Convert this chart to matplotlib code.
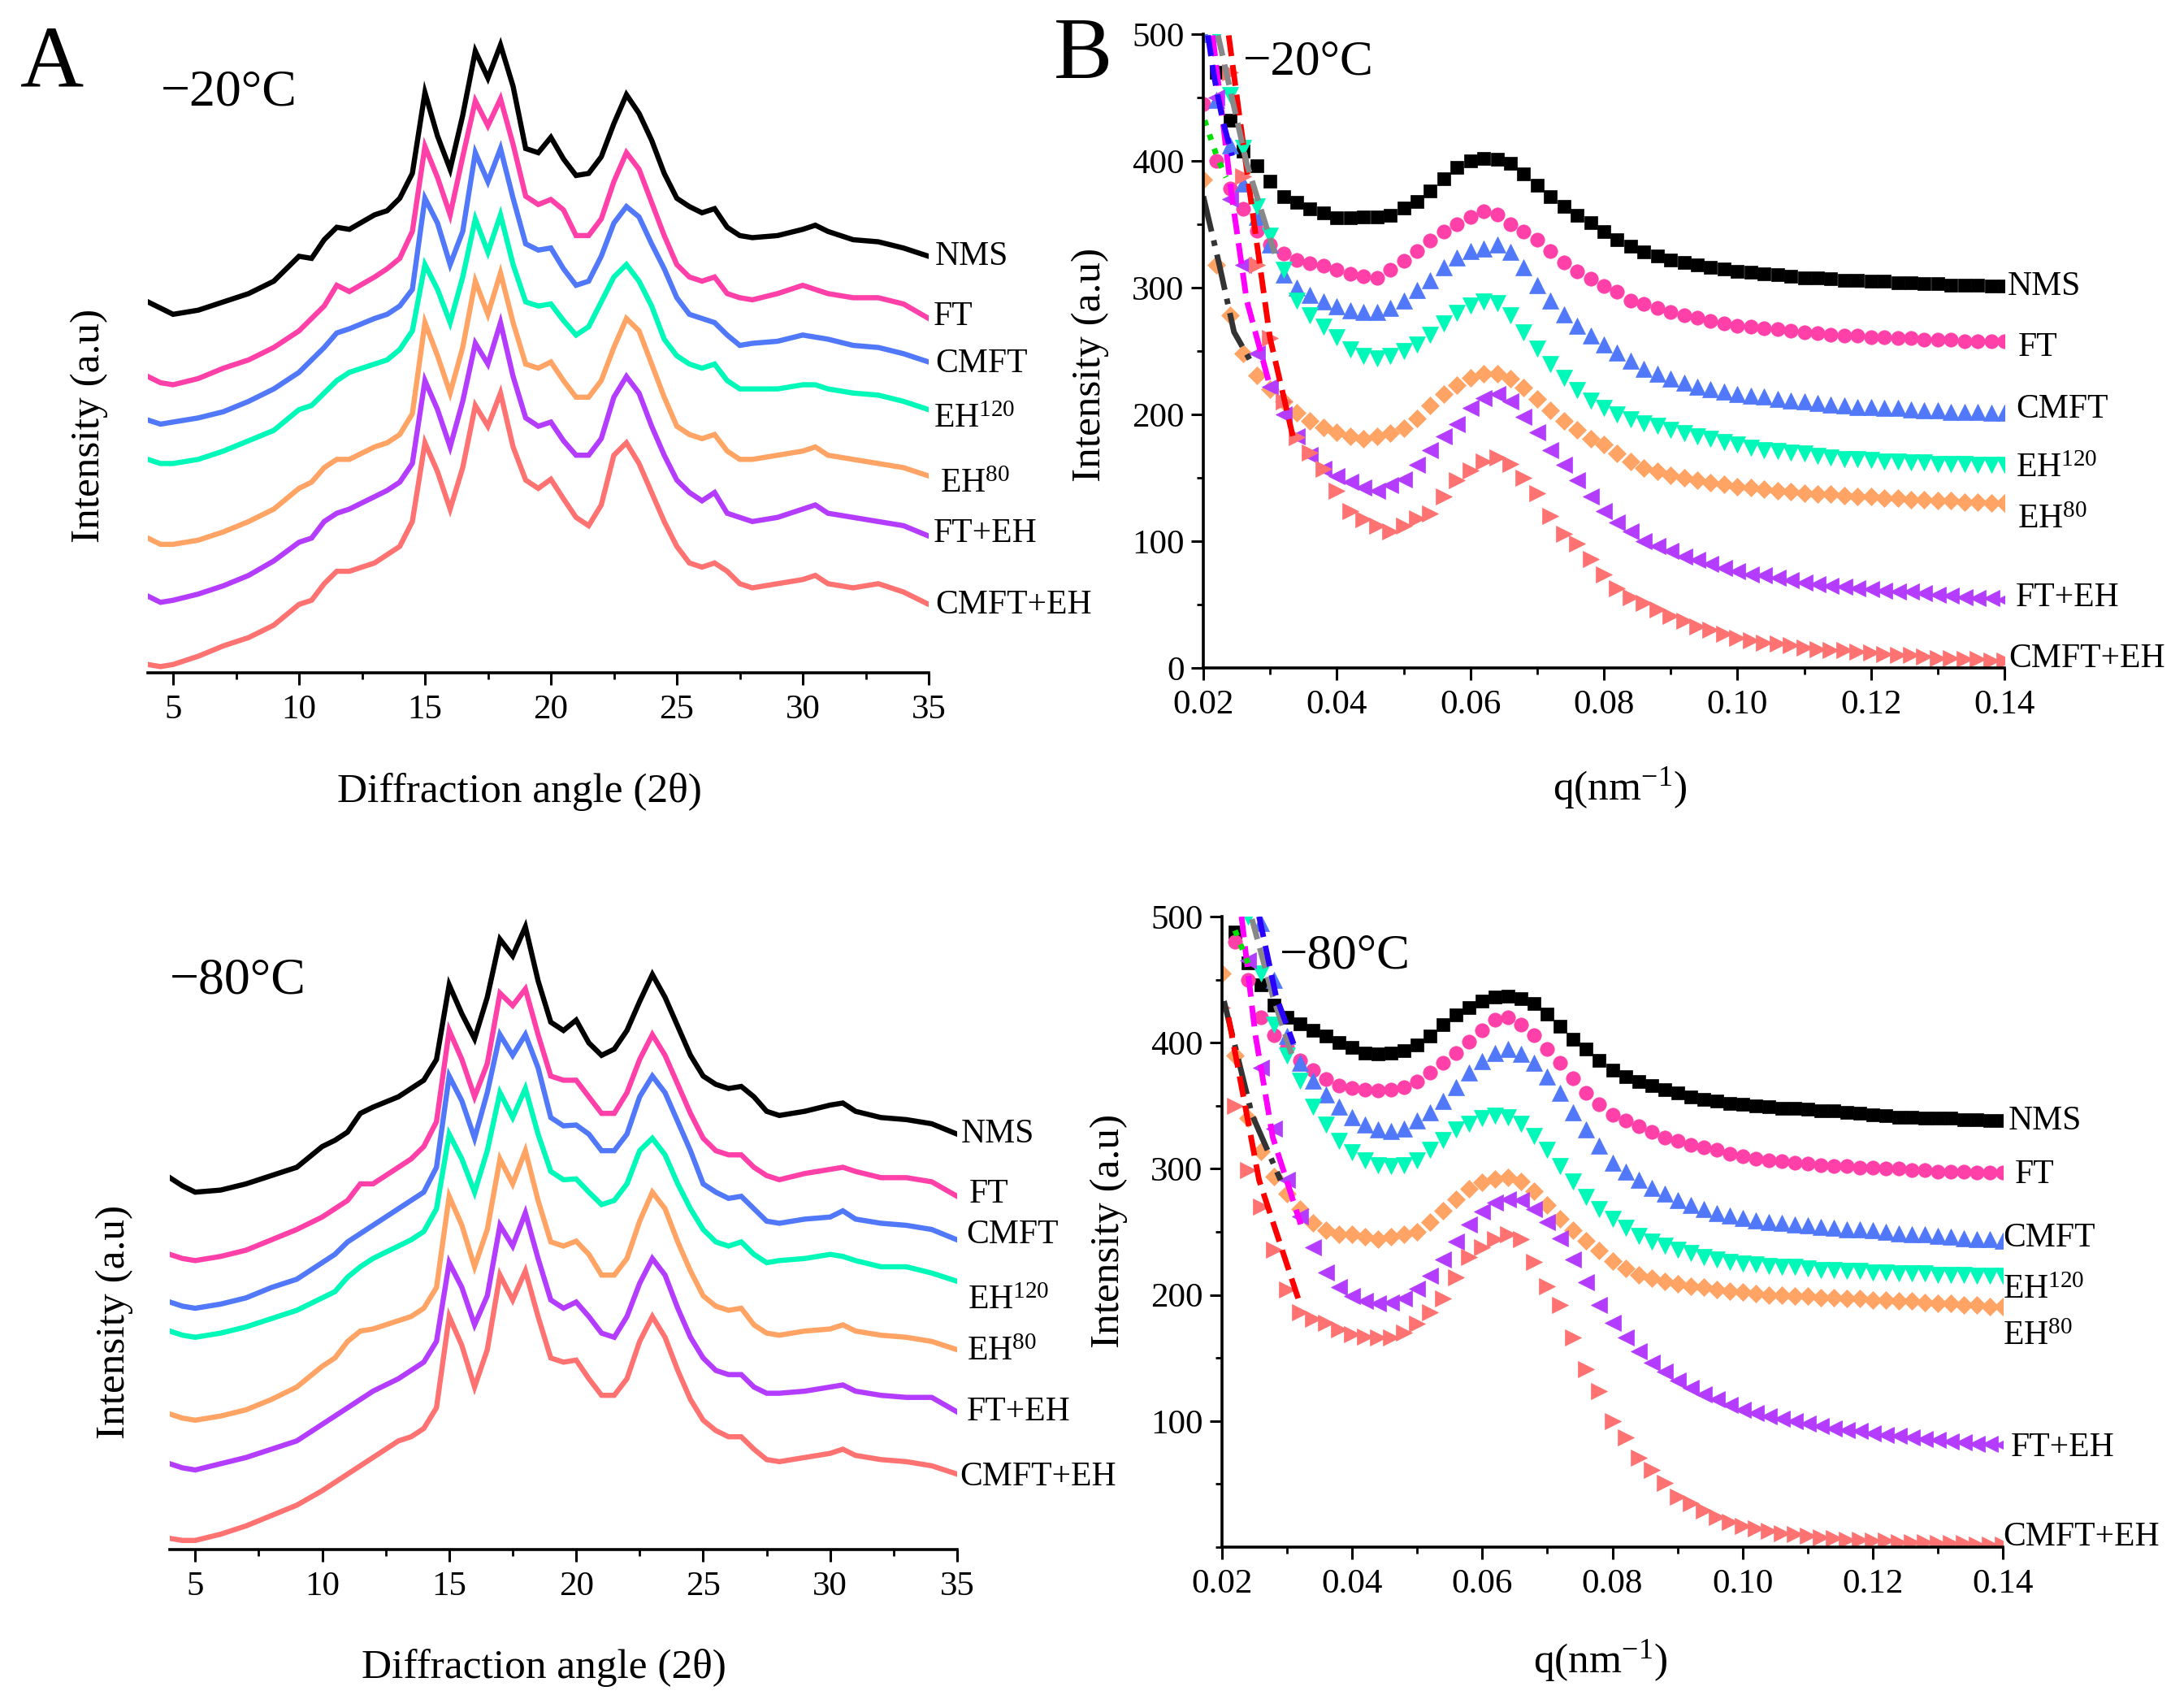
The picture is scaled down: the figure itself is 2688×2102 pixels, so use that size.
import numpy as np
import matplotlib
matplotlib.use("Agg")
import matplotlib.pyplot as plt
from matplotlib.ticker import MultipleLocator

plt.rcParams['font.family'] = ['Liberation Serif', 'DejaVu Serif']
plt.rcParams['mathtext.fontset'] = 'custom'
plt.rcParams['mathtext.rm'] = 'Liberation Serif'
plt.rcParams['mathtext.it'] = 'Liberation Serif:italic'

# ---------------- data ----------------
samples = ["NMS", "FT", "CMFT", "EH120", "EH80", "FT+EH", "CMFT+EH"]
sample_labels = ["NMS", "FT", "CMFT", "EH$^{\\mathrm{120}}$", "EH$^{\\mathrm{80}}$", "FT+EH", "CMFT+EH"]
colors = ["#000000", "#FF40A8", "#5078F8", "#00F8B8", "#FFA464", "#B43CFF", "#FF7272"]
markers = ["s", "o", "^", "v", "D", "<", ">"]

# XRD, diffraction angle (2 theta), stacked intensities (a.u.)
theta = [4, 4.5, 5, 6, 7, 8, 9, 10, 10.5, 11, 11.5, 12, 13, 13.5, 14, 14.5, 15, 15.5, 16, 16.5,
         17, 17.5, 18, 18.5, 19, 19.5, 20, 20.5, 21, 21.5, 22, 22.5, 23, 23.5, 24, 24.5, 25,
         25.5, 26, 26.5, 27, 27.5, 28, 29, 30, 30.5, 31, 32, 33, 34, 35]

xrd20_nms = [895, 880, 865, 875, 895, 915, 945, 1005, 1000, 1045, 1075, 1070, 1105, 1115, 1145, 1205,
             1400, 1295, 1215, 1345, 1500, 1435, 1515, 1415, 1265, 1255, 1292, 1240, 1200, 1205, 1245,
             1325, 1395, 1350, 1285, 1205, 1145, 1125, 1110, 1120, 1075, 1055, 1050, 1055, 1070, 1080,
             1065, 1045, 1040, 1025, 1005]
xrd20_ft = [715, 700, 695, 710, 735, 755, 785, 825, 855, 885, 935, 920, 955, 975, 1000, 1065,
            1270, 1195, 1105, 1245, 1380, 1320, 1385, 1275, 1150, 1130, 1142, 1117, 1055, 1055, 1095,
            1185, 1255, 1215, 1135, 1055, 985, 955, 945, 955, 915, 905, 900, 915, 935, 925,
            915, 905, 905, 890, 855]
xrd20_cmft = [610, 600, 605, 615, 630, 655, 685, 725, 755, 785, 820, 830, 855, 865, 885, 925,
              1145, 1085, 985, 1065, 1255, 1185, 1265, 1145, 1035, 1020, 1025, 975, 935, 945, 1005,
              1085, 1125, 1100, 1035, 975, 905, 865, 855, 845, 815, 790, 795, 800, 815, 810,
              805, 790, 785, 770, 750]
xrd20_eh120 = [515, 505, 505, 515, 535, 560, 585, 635, 645, 675, 705, 725, 745, 755, 780, 825,
               985, 925, 845, 955, 1095, 1015, 1105, 985, 895, 885, 890, 850, 815, 835, 895,
               955, 985, 945, 885, 805, 765, 745, 735, 745, 705, 685, 685, 685, 695, 695,
               685, 675, 670, 655, 635]
xrd20_eh80 = [325, 310, 310, 320, 340, 365, 395, 445, 460, 495, 515, 515, 545, 555, 575, 625,
              845, 765, 675, 785, 945, 865, 965, 845, 745, 735, 750, 705, 665, 665, 705,
              785, 855, 825, 745, 665, 595, 575, 565, 575, 535, 515, 515, 525, 535, 545,
              525, 515, 505, 495, 475]
xrd20_fteh = [185, 170, 175, 190, 210, 235, 270, 315, 325, 365, 385, 395, 425, 440, 460, 505,
              705, 635, 545, 655, 795, 745, 845, 715, 615, 595, 605, 560, 525, 525, 565,
              665, 715, 675, 595, 525, 465, 435, 415, 435, 385, 375, 365, 375, 395, 405,
              385, 375, 365, 355, 330]
xrd20_cmfteh = [20, 15, 20, 40, 65, 85, 115, 165, 175, 215, 245, 245, 265, 285, 305, 365,
                555, 485, 395, 495, 645, 595, 675, 545, 465, 445, 467, 420, 375, 355, 405,
                525, 555, 505, 435, 365, 305, 265, 255, 265, 245, 215, 205, 215, 225, 235,
                215, 205, 215, 195, 165]

xrd80_nms = [897, 877, 862, 867, 882, 902, 922, 972, 987, 1007, 1052, 1067, 1092, 1112, 1132, 1182,
             1362, 1292, 1232, 1332, 1472, 1432, 1502, 1372, 1272, 1252, 1277, 1222, 1192, 1207, 1252,
             1322, 1387, 1332, 1262, 1192, 1142, 1122, 1112, 1117, 1092, 1057, 1047, 1057, 1072, 1077,
             1057, 1042, 1037, 1027, 1002]
xrd80_ft = [712, 702, 697, 707, 722, 747, 772, 802, 822, 842, 882, 882, 922, 942, 972, 1032,
            1252, 1182, 1092, 1172, 1342, 1312, 1352, 1242, 1142, 1132, 1132, 1092, 1052, 1052, 1102,
            1182, 1242, 1192, 1122, 1052, 992, 962, 952, 952, 922, 902, 892, 907, 917, 922,
            912, 897, 897, 887, 852]
xrd80_cmft = [597, 587, 582, 592, 607, 632, 652, 692, 712, 742, 762, 782, 822, 842, 862, 922,
              1142, 1082, 992, 1102, 1242, 1192, 1242, 1162, 1042, 1022, 1024, 1002, 962, 962, 1002,
              1092, 1142, 1102, 1032, 962, 882, 862, 847, 852, 822, 792, 787, 797, 802, 817,
              797, 787, 782, 772, 747]
xrd80_eh120 = [527, 517, 512, 522, 537, 557, 577, 607, 622, 657, 682, 702, 732, 747, 767, 822,
               1002, 942, 862, 962, 1102, 1042, 1112, 1002, 912, 892, 894, 862, 832, 842, 882,
               962, 992, 952, 882, 822, 772, 742, 732, 742, 712, 692, 697, 702, 712, 707,
               697, 682, 682, 667, 647]
xrd80_eh80 = [327, 317, 312, 322, 337, 362, 392, 442, 462, 502, 527, 532, 552, 562, 582, 632,
              852, 782, 682, 772, 942, 882, 962, 842, 742, 732, 744, 712, 662, 662, 702,
              792, 862, 822, 742, 672, 612, 587, 577, 582, 542, 522, 517, 527, 532, 542,
              527, 517, 512, 502, 482]
xrd80_fteh = [207, 197, 192, 207, 222, 242, 262, 302, 322, 342, 362, 382, 412, 432, 452, 502,
              692, 632, 542, 612, 782, 732, 812, 702, 602, 582, 597, 562, 522, 512, 562,
              642, 702, 662, 582, 512, 462, 432, 422, 422, 392, 377, 377, 382, 392, 397,
              382, 372, 367, 367, 332]
xrd80_cmfteh = [27, 22, 22, 37, 57, 82, 107, 142, 162, 182, 202, 222, 262, 272, 292, 342,
                562, 492, 392, 482, 662, 602, 672, 562, 462, 452, 457, 412, 372, 372, 412,
                502, 562, 512, 432, 362, 312, 287, 272, 272, 242, 217, 212, 222, 232, 242,
                227, 217, 212, 202, 182]

# SAXS, q (nm^-1) sampled every 0.002 from 0.020 to 0.140
q = np.linspace(0.020, 0.140, 61)

saxs20_nms = [520, 470, 432, 408, 396, 384, 372, 367, 362, 359, 355, 355, 356, 356, 357, 363, 368, 376,
              386, 395, 400, 402, 401, 398, 390, 381, 372, 364, 357, 351, 344, 338, 333, 328, 325, 322,
              320, 318, 316, 315, 313, 312, 311, 310, 309, 308, 308, 307, 306, 306, 305, 305, 304, 304,
              303, 303, 302, 302, 302, 301, 301]
saxs20_ft = [445, 400, 378, 362, 345, 334, 327, 322, 319, 317, 314, 311, 309, 308, 314, 321, 329, 337,
             344, 350, 356, 360, 358, 350, 344, 338, 329, 320, 313, 307, 301, 297, 290, 287, 284, 281,
             278, 276, 274, 272, 270, 269, 268, 267, 266, 265, 264, 263, 262, 262, 261, 261, 260, 260,
             259, 259, 259, 258, 258, 258, 258]
saxs20_cmft = [500, 448, 412, 382, 356, 334, 310, 300, 294, 289, 285, 282, 281, 281, 284, 290, 298, 306,
               316, 324, 329, 331, 334, 328, 316, 302, 290, 279, 270, 262, 255, 249, 242, 236, 232, 228,
               225, 222, 220, 218, 216, 215, 214, 212, 211, 210, 209, 208, 207, 206, 206, 205, 205, 204,
               203, 203, 202, 202, 202, 201, 201]
saxs20_eh120 = [540, 500, 452, 410, 364, 341, 314, 290, 278, 269, 261, 251, 246, 244, 246, 250, 255, 263,
                272, 280, 286, 289, 288, 278, 265, 252, 240, 229, 219, 211, 205, 200, 196, 193, 191, 188,
                185, 183, 181, 178, 176, 174, 172, 171, 170, 169, 167, 166, 165, 165, 164, 163, 163, 162,
                162, 161, 161, 161, 160, 160, 160]
saxs20_eh80 = [385, 318, 278, 248, 231, 220, 210, 201, 195, 190, 186, 183, 181, 183, 185, 189, 197, 207,
               216, 223, 229, 232, 232, 228, 221, 212, 203, 195, 188, 181, 176, 169, 163, 158, 155, 152,
               150, 148, 146, 145, 143, 142, 141, 140, 139, 138, 137, 137, 136, 135, 135, 134, 134, 133,
               133, 132, 132, 131, 131, 130, 130]
saxs20_fteh = [520, 450, 370, 318, 248, 222, 200, 183, 168, 157, 151, 147, 142, 140, 144, 149, 160, 172,
               183, 192, 205, 213, 216, 210, 198, 186, 172, 160, 148, 135, 124, 115, 108, 100, 96, 92,
               88, 85, 82, 79, 76, 74, 73, 71, 69, 67, 66, 65, 64, 63, 62, 61, 60, 60,
               59, 58, 57, 56, 55, 55, 54]
saxs20_cmfteh = [600, 560, 470, 388, 318, 260, 210, 182, 170, 157, 140, 124, 117, 112, 108, 112, 118, 122,
                 135, 148, 156, 163, 166, 161, 150, 138, 120, 106, 98, 86, 74, 63, 56, 51, 46, 41,
                 37, 33, 30, 27, 24, 22, 20, 19, 18, 16, 15, 14, 14, 13, 12, 11, 10, 10,
                 9, 8, 8, 7, 7, 6, 6]

saxs80_nms = [510, 488, 463, 446, 430, 420, 415, 410, 405, 400, 396, 392, 391, 392, 394, 398, 405, 414,
              422, 428, 433, 436, 437, 435, 431, 423, 413, 403, 395, 386, 378, 373, 369, 366, 363, 360,
              357, 355, 354, 352, 351, 350, 349, 348, 348, 347, 346, 346, 345, 344, 343, 342, 341, 341,
              340, 340, 340, 339, 339, 338, 338]
saxs80_ft = [520, 480, 450, 420, 406, 396, 386, 378, 371, 366, 364, 363, 362, 363, 365, 369, 376, 384,
             392, 401, 410, 418, 420, 414, 406, 395, 384, 372, 360, 351, 343, 338, 334, 329, 325, 322,
             319, 317, 315, 312, 310, 308, 307, 306, 305, 304, 303, 302, 302, 301, 301, 300, 300, 299,
             299, 298, 298, 298, 297, 297, 297]
saxs80_cmft = [620, 580, 540, 495, 450, 405, 384, 370, 359, 349, 341, 335, 331, 330, 332, 338, 345, 354,
               365, 376, 385, 392, 395, 391, 384, 373, 360, 345, 331, 318, 305, 298, 291, 285, 280, 275,
               271, 268, 265, 263, 261, 259, 258, 257, 256, 255, 254, 253, 252, 252, 251, 250, 249, 248,
               248, 247, 246, 245, 244, 244, 243]
saxs80_eh120 = [600, 550, 500, 455, 414, 390, 370, 349, 335, 322, 313, 307, 303, 302, 303, 307, 315, 323,
                331, 336, 340, 342, 341, 336, 326, 315, 302, 290, 278, 268, 260, 253, 247, 242, 239, 236,
                233, 230, 228, 226, 225, 224, 223, 222, 222, 221, 220, 220, 219, 219, 218, 218, 217, 217,
                217, 216, 216, 216, 215, 215, 215]
saxs80_eh80 = [455, 390, 340, 314, 294, 280, 268, 257, 251, 248, 248, 246, 244, 246, 248, 250, 258, 267,
               276, 284, 289, 292, 293, 290, 282, 271, 260, 251, 243, 235, 227, 221, 216, 213, 211, 209,
               207, 206, 204, 203, 202, 201, 200, 200, 199, 199, 198, 198, 197, 197, 196, 196, 195, 195,
               194, 193, 193, 192, 192, 191, 191]
saxs80_fteh = [600, 540, 465, 380, 332, 291, 262, 238, 218, 206, 199, 195, 193, 194, 197, 205, 215, 228,
               242, 256, 266, 273, 276, 275, 268, 258, 245, 228, 210, 192, 178, 166, 155, 146, 139, 132,
               126, 121, 117, 113, 109, 106, 104, 102, 100, 98, 96, 94, 93, 92, 90, 89, 88, 87,
               86, 85, 84, 83, 82, 82, 81]
saxs80_cmfteh = [428, 350, 299, 270, 236, 204, 186, 181, 178, 173, 169, 167, 166, 166, 170, 177, 186, 197,
                 214, 230, 238, 244, 248, 244, 226, 207, 192, 166, 141, 124, 100, 87, 71, 61, 51, 40,
                 35, 29, 24, 20, 17, 15, 13, 11, 10, 9, 8, 7, 6, 6, 5, 5, 4, 4,
                 4, 3, 3, 3, 2, 2, 2]

# low-q power-law fits drawn as short broken lines
fit_colors = ["#333333", "#FF0000", "#FF00FF", "#888888", "#00E000", "#2A00FF"]
fit_styles = ["-.", "--", "--", "--", ":", "--"]
fit20_q = [[0.0200, 0.0224, 0.0246, 0.0273],
           [0.0238, 0.0255, 0.0277, 0.0300, 0.0334],
           [0.0214, 0.0229, 0.0243, 0.0265, 0.0300],
           [0.0222, 0.0265, 0.0295, 0.0307],
           [0.0202, 0.0220, 0.0234],
           [0.0207, 0.0216, 0.0229, 0.0243]]
fit20_i = [[372, 318, 265, 240],
           [499, 432, 347, 260, 183],
           [499, 432, 371, 290, 222],
           [499, 398, 347, 327],
           [432, 404, 387],
           [499, 467, 432, 404]]
fit80_q = [[0.0203, 0.0246, 0.0290],
           [0.0210, 0.0257, 0.0321],
           [0.0230, 0.0251, 0.0278, 0.0321],
           [0.0246, 0.0278, 0.0310],
           [0.0220, 0.0240],
           [0.0257, 0.0283, 0.0310]]
fit80_i = [[433, 343, 291],
           [420, 291, 191],
           [500, 407, 325, 256],
           [498, 437, 386],
           [489, 463],
           [500, 437, 399]]

xrd20 = [xrd20_nms, xrd20_ft, xrd20_cmft, xrd20_eh120, xrd20_eh80, xrd20_fteh, xrd20_cmfteh]
xrd80 = [xrd80_nms, xrd80_ft, xrd80_cmft, xrd80_eh120, xrd80_eh80, xrd80_fteh, xrd80_cmfteh]
saxs20 = [saxs20_nms, saxs20_ft, saxs20_cmft, saxs20_eh120, saxs20_eh80, saxs20_fteh, saxs20_cmfteh]
saxs80 = [saxs80_nms, saxs80_ft, saxs80_cmft, saxs80_eh120, saxs80_eh80, saxs80_fteh, saxs80_cmfteh]

# label anchor points (left edge, vertical centre) in data units
xrd20_lab = [(35.26, 1005), (35.2, 860), (35.26, 745), (35.2, 612), (35.45, 455), (35.2, 335), (35.26, 163)]
xrd80_lab = [(35.15, 1002), (35.47, 856), (35.37, 758), (35.4, 600), (35.37, 477), (35.37, 331), (35.1, 174)]
saxs20_lab = [(0.1405, 301), (0.1421, 253), (0.1417, 204), (0.1417, 157), (0.1419, 117), (0.1417, 55), (0.1406, 7)]
saxs80_lab = [(0.1408, 338), (0.1419, 295), (0.1400, 245), (0.1400, 204), (0.1400, 167), (0.1412, 79), (0.1400, 8)]

W, H = 2688, 2102
fig = plt.figure(figsize=(W / 100, H / 100), dpi=100)


def box(left, right, bottom, top):
    return [left / W, 1 - bottom / H, (right - left) / W, (bottom - top) / H]


def style_axis(ax):
    for s in ("top", "right"):
        ax.spines[s].set_visible(False)
    for s in ("bottom", "left"):
        ax.spines[s].set_linewidth(2.6)
    ax.tick_params(which="major", direction="out", length=11, width=2.2, labelsize=31, pad=8)
    ax.tick_params(which="minor", direction="out", length=6, width=2.0)


def xrd_panel(rect, curves, labels, ymax, temp, temp_xy):
    ax = fig.add_axes(rect)
    for y, c in zip(curves, colors):
        ax.plot(theta, y, color=c, lw=4.6, solid_joinstyle="miter")
    ax.set_xlim(4, 35)
    ax.set_ylim(0, ymax)
    style_axis(ax)
    ax.spines["left"].set_visible(False)
    ax.set_yticks([])
    ax.xaxis.set_major_locator(MultipleLocator(5))
    ax.xaxis.set_minor_locator(MultipleLocator(2.5))
    for (lx, ly), t in zip(labels, sample_labels):
        ax.text(lx, ly, t, fontsize=30, ha="left", va="center", clip_on=False)
    ax.text(temp_xy[0], temp_xy[1], temp, fontsize=46, ha="left", va="center", transform=ax.transAxes)
    return ax


def saxs_panel(rect, curves, fq, fi, labels, temp, temp_xy, yticks):
    ax = fig.add_axes(rect)
    for y, c, m in zip(curves, colors, markers):
        ms = {"s": 12, "o": 12.5, "D": 11}.get(m, 14)
        ax.plot(q, y, ls="none", marker=m, ms=ms, mfc=c, mec=c, mew=0.5)
    for xs, ys, c, st in zip(fq, fi, fit_colors, fit_styles):
        ax.plot(xs, ys, color=c, ls=st, lw=5)
    ax.set_xlim(0.02, 0.14)
    ax.set_ylim(0, 500)
    style_axis(ax)
    ax.set_xticks([0.02, 0.04, 0.06, 0.08, 0.10, 0.12, 0.14])
    ax.set_xticklabels(["0.02", "0.04", "0.06", "0.08", "0.10", "0.12", "0.14"])
    ax.xaxis.set_minor_locator(MultipleLocator(0.01))
    ax.set_yticks(yticks)
    ax.yaxis.set_minor_locator(MultipleLocator(50))
    ax.tick_params(axis="y", which="major", pad=6)
    for (lx, ly), t in zip(labels, sample_labels):
        ax.text(lx, ly, t, fontsize=30, ha="left", va="center", clip_on=False)
    ax.text(temp_xy[0], temp_xy[1], temp, fontsize=44, ha="left", va="center", transform=ax.transAxes)
    return ax


xrd_panel(box(182, 1143, 828, 40), xrd20, xrd20_lab, 1545, "\u221220\u00b0C", (0.017, 0.905))
xrd_panel(box(209, 1178, 1907, 1110), xrd80, xrd80_lab, 1562, "\u221280\u00b0C", (0.0, 0.878))
saxs_panel(box(1481, 2467, 822, 42), saxs20, fit20_q, fit20_i, saxs20_lab,
           "\u221220\u00b0C", (0.05, 0.956), [0, 100, 200, 300, 400, 500])
saxs_panel(box(1504, 2465, 1904, 1128), saxs80, fit80_q, fit80_i, saxs80_lab,
           "\u221280\u00b0C", (0.074, 0.937), [100, 200, 300, 400, 500])

# axis titles and panel letters, placed in figure pixels
def ftext(x, y, s, **kw):
    fig.text(x / W, 1 - y / H, s, ha="center", va="center", **kw)

ftext(639, 974, "Diffraction angle (2\u03b8)", fontsize=37)
ftext(669, 2052, "Diffraction angle (2\u03b8)", fontsize=37)
ftext(1994, 970, "q(nm$^{\\mathrm{-1}}$)", fontsize=37)
ftext(1970, 2044, "q(nm$^{\\mathrm{-1}}$)", fontsize=37)
ftext(110, 524, "Intensity (a.u)", fontsize=37, rotation=90)
ftext(141, 1627, "Intensity (a.u)", fontsize=37, rotation=90)
ftext(1342, 449, "Intensity (a.u)", fontsize=37, rotation=90)
ftext(1365, 1515, "Intensity (a.u)", fontsize=37, rotation=90)
ftext(64, 80, "A", fontsize=78)
ftext(1333, 70, "B", fontsize=78)

fig.savefig("out.png", dpi=100)
